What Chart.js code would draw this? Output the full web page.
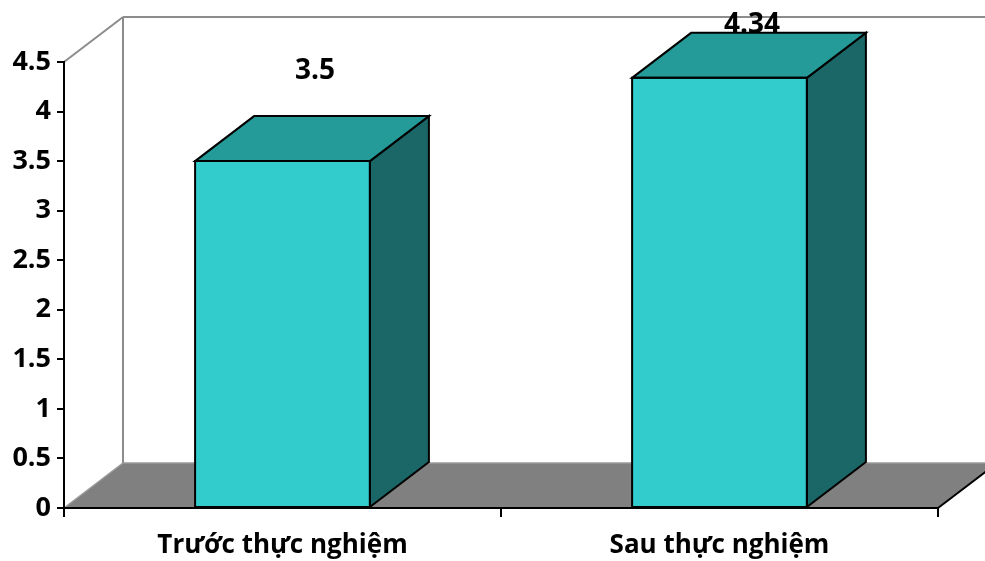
<!DOCTYPE html>
<html>
<head>
<meta charset="utf-8">
<script src="https://cdn.jsdelivr.net/npm/chart.js@4.4.1/dist/chart.umd.min.js"></script>
<style>
  html, body { margin: 0; padding: 0; background: #ffffff; }
  #wrap { width: 985px; height: 561px; }
</style>
</head>
<body>
<div id="wrap"><canvas id="c" width="985" height="561"></canvas></div>
<script>
// Categories and values
const categories = ['Trước thực nghiệm', 'Sau thực nghiệm'];
const scores = [3.5, 4.34];
const yTicks = [0, 0.5, 1, 1.5, 2, 2.5, 3, 3.5, 4, 4.5];

// 3D depth offset of the floor, walls and bars
const DEPTH_X = 59;
const DEPTH_Y = -45;

const FONT = '"Open Sans", Lato, sans-serif';

function poly(ctx, pts, fill, stroke, lw) {
  ctx.beginPath();
  ctx.moveTo(pts[0][0], pts[0][1]);
  for (let i = 1; i < pts.length; i++) ctx.lineTo(pts[i][0], pts[i][1]);
  ctx.closePath();
  if (fill) { ctx.fillStyle = fill; ctx.fill(); }
  if (stroke) { ctx.strokeStyle = stroke; ctx.lineWidth = lw; ctx.lineJoin = 'miter'; ctx.stroke(); }
}

function line(ctx, x1, y1, x2, y2, color, lw) {
  ctx.beginPath();
  ctx.moveTo(x1, y1);
  ctx.lineTo(x2, y2);
  ctx.strokeStyle = color;
  ctx.lineWidth = lw;
  ctx.stroke();
}

// Floor and walls behind everything
const backdrop = {
  id: 'backdrop',
  beforeDraw(chart) {
    const { ctx } = chart;
    const xs = chart.scales.x, ys = chart.scales.y;
    const x0 = xs.left, x1 = xs.right;
    const y0 = ys.getPixelForValue(yTicks[0]);
    const yt = ys.getPixelForValue(yTicks[yTicks.length - 1]);
    ctx.save();
    ctx.fillStyle = '#ffffff';
    ctx.fillRect(0, 0, chart.width, chart.height);
    // floor
    poly(ctx, [[x0, y0], [x1, y0], [x1 + DEPTH_X, y0 + DEPTH_Y], [x0 + DEPTH_X, y0 + DEPTH_Y]], '#808080', null, 0);
    line(ctx, x0, y0, x0 + DEPTH_X, y0 + DEPTH_Y, '#9a9a9a', 1.5);
    line(ctx, x0 + DEPTH_X, y0 + DEPTH_Y, x1 + DEPTH_X, y0 + DEPTH_Y, '#9a9a9a', 1.5);
    line(ctx, x1, y0, x1 + DEPTH_X, y0 + DEPTH_Y, '#000000', 2);
    // walls
    line(ctx, x0 + DEPTH_X, y0 + DEPTH_Y, x0 + DEPTH_X, yt + DEPTH_Y, '#8c8c8c', 2);
    line(ctx, x0 + DEPTH_X, yt + DEPTH_Y, x1 + DEPTH_X, yt + DEPTH_Y, '#8c8c8c', 2);
    line(ctx, x0, yt, x0 + DEPTH_X, yt + DEPTH_Y, '#8c8c8c', 2);
    ctx.restore();
  }
};

// Top and side faces of each bar, plus value labels
const bars3d = {
  id: 'bars3d',
  afterDatasetsDraw(chart) {
    const { ctx } = chart;
    const meta = chart.getDatasetMeta(0);
    const top = chart.chartArea.top;
    ctx.save();
    meta.data.forEach((bar, i) => {
      const p = bar.getProps(['x', 'y', 'base', 'width'], true);
      const l = p.x - p.width / 2, r = p.x + p.width / 2, t = p.y, b = p.base;
      poly(ctx, [[r, t], [r, b], [r + DEPTH_X, b + DEPTH_Y], [r + DEPTH_X, t + DEPTH_Y]], '#1b6666', '#000000', 2);
      poly(ctx, [[l, t], [r, t], [r + DEPTH_X, t + DEPTH_Y], [l + DEPTH_X, t + DEPTH_Y]], '#259b99', '#000000', 2);
      poly(ctx, [[l, t], [r, t], [r, b], [l, b]], null, '#000000', 2);
      // value label
      const ly = Math.max(t + 2 * DEPTH_Y, top - 37);
      ctx.fillStyle = '#000000';
      ctx.font = 'bold 28px ' + FONT;
      ctx.textAlign = 'center';
      ctx.textBaseline = 'middle';
      ctx.fillText(String(scores[i]), p.x + DEPTH_X / 2 + 3, ly);
    });
    ctx.restore();
  }
};

new Chart(document.getElementById('c'), {
  type: 'bar',
  data: {
    labels: categories,
    datasets: [{
      data: scores,
      backgroundColor: '#33cccc',
      borderColor: '#000000',
      borderWidth: 0,
      barPercentage: 0.4,
      categoryPercentage: 1.0
    }]
  },
  options: {
    responsive: false,
    animation: false,
    devicePixelRatio: 1,
    layout: { padding: { top: 62, right: 47, left: 0, bottom: 0 } },
    plugins: { legend: { display: false }, tooltip: { enabled: false } },
    scales: {
      x: {
        offset: true,
        grid: { offset: true, drawOnChartArea: false, color: '#000000', lineWidth: 2, tickLength: 9 },
        border: { display: true, color: '#000000', width: 2 },
        ticks: { color: '#000000', font: { family: FONT, size: 26, weight: 'bold' }, padding: 13, maxRotation: 0 },
        afterFit(scale) { scale.height = 53; }
      },
      y: {
        min: 0,
        max: 4.5,
        afterBuildTicks(scale) { scale.ticks = yTicks.map(v => ({ value: v })); },
        grid: { drawOnChartArea: false, color: '#000000', lineWidth: 2, tickLength: 7 },
        border: { display: true, color: '#000000', width: 2 },
        ticks: {
          color: '#000000',
          font: { family: FONT, size: 27, weight: 'bold' },
          padding: 6,
          callback: v => String(v)
        },
        afterFit(scale) { scale.width = 64; }
      }
    }
  },
  plugins: [backdrop, bars3d]
});
</script>
</body>
</html>
